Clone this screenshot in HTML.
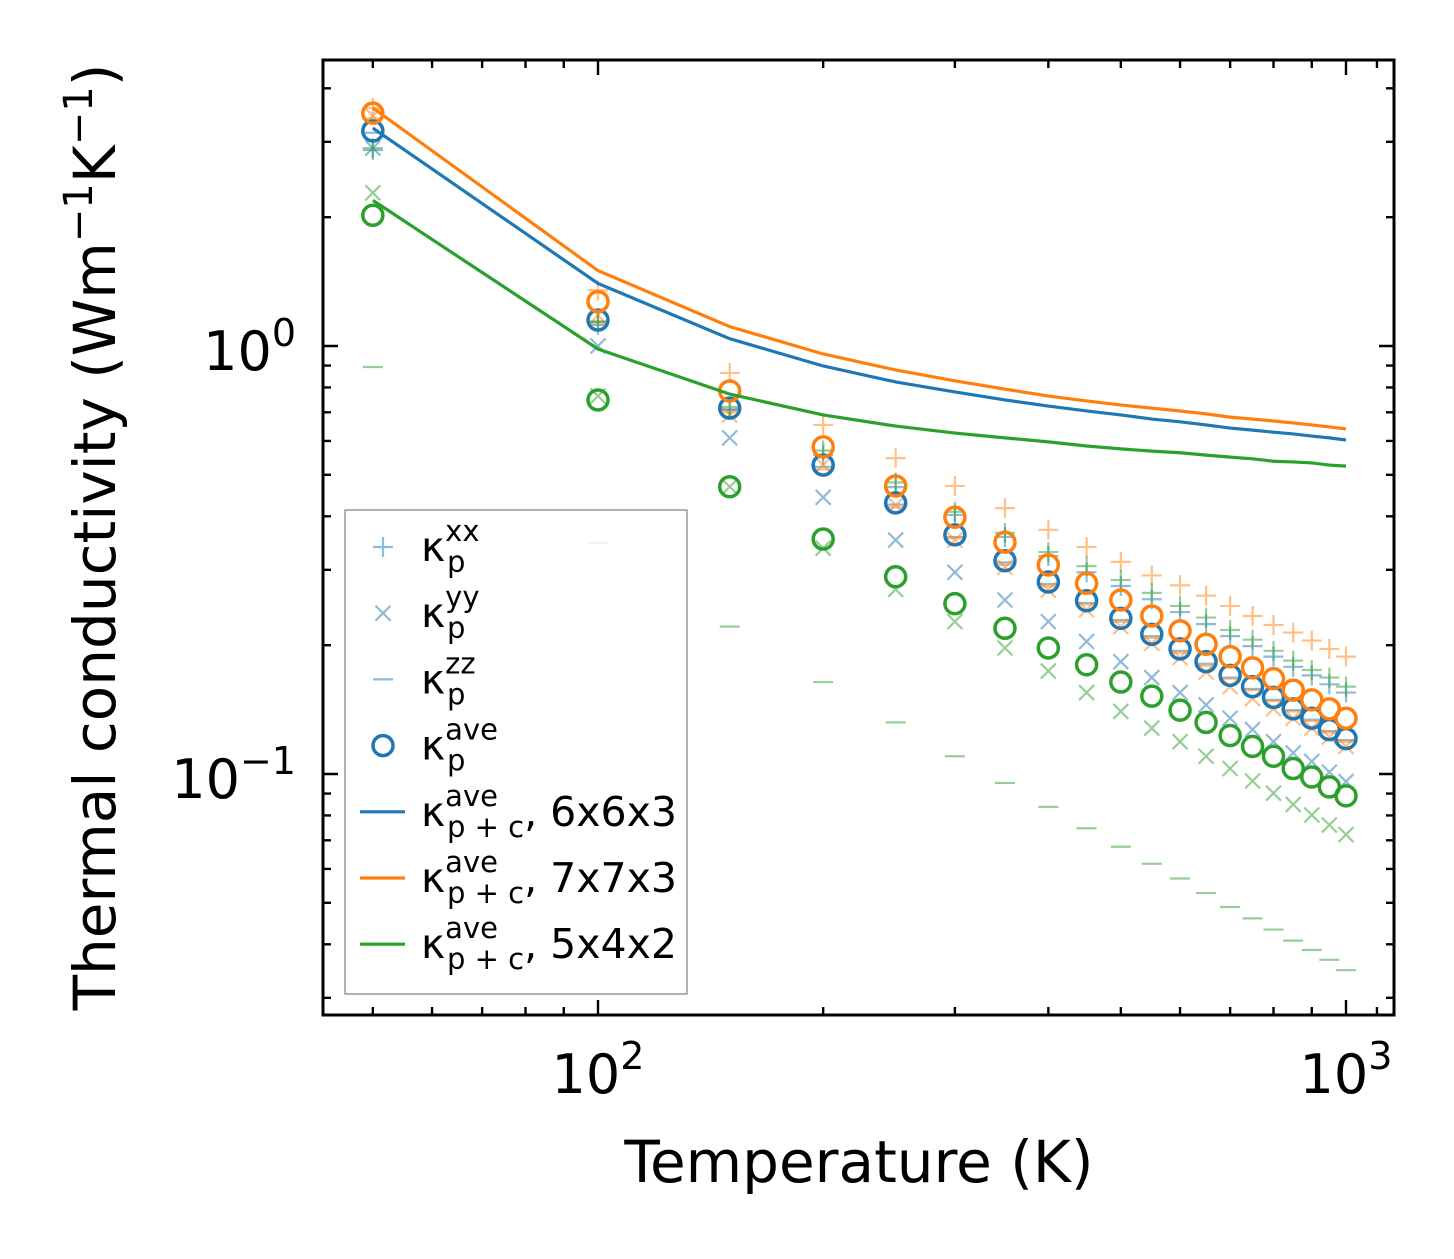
<!DOCTYPE html>
<html><head><meta charset="utf-8"><style>
body{margin:0;background:#fff}
svg text{font-family:"DejaVu Sans","Liberation Sans",sans-serif;fill:#000}
</style></head><body>
<svg id="c" width="1454" height="1254" viewBox="0 0 1454 1254" xmlns="http://www.w3.org/2000/svg"></svg>
<script>
const temps=[50,100,150,200,250,300,350,400,450,500,550,600,650,700,750,800,850,900,950,1000];
const blueAve=[3.18,1.15,0.716,0.527,0.43,0.362,0.315,0.281,0.254,0.231,0.212,0.196,0.183,0.170,0.160,0.151,0.142,0.135,0.127,0.121];
const orangeAve=[3.50,1.27,0.785,0.581,0.471,0.398,0.348,0.308,0.279,0.255,0.234,0.216,0.201,0.188,0.177,0.167,0.157,0.149,0.142,0.135];
const greenAve=[2.02,0.748,0.469,0.354,0.289,0.250,0.219,0.197,0.180,0.164,0.152,0.141,0.132,0.123,0.116,0.110,0.103,0.0984,0.0933,0.0889];
const blueLine=[3.23,1.40,1.04,0.898,0.824,0.781,0.748,0.724,0.705,0.690,0.675,0.665,0.654,0.643,0.636,0.629,0.623,0.616,0.610,0.603];
const orangeLine=[3.60,1.50,1.11,0.958,0.879,0.829,0.793,0.764,0.744,0.728,0.716,0.705,0.694,0.682,0.675,0.668,0.661,0.654,0.647,0.640];
const greenLine=[2.19,0.984,0.772,0.690,0.650,0.626,0.610,0.597,0.584,0.575,0.568,0.563,0.556,0.550,0.545,0.538,0.536,0.533,0.527,0.524];
const blueXX=[2.87,1.12,0.71,0.556,0.468,0.403,0.358,0.323,0.296,0.275,0.256,0.239,0.224,0.210,0.199,0.188,0.178,0.170,0.162,0.155];
const blueYY=[2.90,1.00,0.61,0.443,0.352,0.296,0.255,0.227,0.204,0.183,0.168,0.155,0.145,0.135,0.127,0.119,0.112,0.107,0.101,0.096];
const blueZZ=[3.15,1.14,0.71,0.522,0.426,0.358,0.312,0.278,0.251,0.229,0.210,0.194,0.181,0.168,0.158,0.149,0.141,0.134,0.126,0.120];
const orangeXX=[3.60,1.35,0.865,0.654,0.547,0.471,0.418,0.372,0.339,0.313,0.291,0.276,0.261,0.247,0.234,0.223,0.214,0.205,0.196,0.188];
const orangeYY=[3.45,1.18,0.69,0.527,0.425,0.352,0.304,0.269,0.242,0.221,0.202,0.187,0.173,0.160,0.150,0.142,0.135,0.128,0.122,0.116];
const orangeZZ=[3.40,1.13,0.70,0.515,0.420,0.355,0.308,0.275,0.249,0.227,0.208,0.192,0.179,0.167,0.157,0.148,0.140,0.133,0.125,0.119];
const greenXX=[2.90,1.14,0.72,0.57,0.48,0.41,0.366,0.33,0.306,0.284,0.265,0.247,0.232,0.217,0.206,0.194,0.184,0.175,0.168,0.160];
const greenYY=[2.28,0.764,0.469,0.337,0.270,0.227,0.197,0.174,0.155,0.140,0.128,0.119,0.110,0.103,0.0963,0.0902,0.0849,0.0802,0.0760,0.0722];
const greenZZ=[0.893,0.347,0.221,0.164,0.132,0.110,0.0953,0.0838,0.0747,0.0676,0.0617,0.0570,0.0527,0.0489,0.0460,0.0433,0.0408,0.0388,0.0368,0.0348];

const C={b:'#1f77b4',o:'#ff7f0e',g:'#2ca02c'};
const L=323,R=1394,T=60,B=1015;
const X=v=>598+(Math.log10(v)-2)*748;
const Y=v=>346-Math.log10(v)*428;
const svg=document.getElementById('c');
const NS='http://www.w3.org/2000/svg';
function el(t,a,p){const e=document.createElementNS(NS,t);for(const k in a)e.setAttribute(k,a[k]);(p||svg).appendChild(e);return e;}

const defs=el('defs',{});const cp=el('clipPath',{id:'clip'},defs);el('rect',{x:L,y:T,width:R-L,height:B-T},cp);
const plot=el('g',{'clip-path':'url(#clip)'});



function marker(g,type,x,y,col,a){
  const s=10;
  if(type==='+'){el('path',{d:`M${x-s} ${y}H${x+s}M${x} ${y-s}V${y+s}`,stroke:col,'stroke-width':2.2,'stroke-opacity':a,fill:'none'},g);}
  else if(type==='x'){const d=s*0.75;el('path',{d:`M${x-d} ${y-d}L${x+d} ${y+d}M${x-d} ${y+d}L${x+d} ${y-d}`,stroke:col,'stroke-width':2.2,'stroke-opacity':a,fill:'none'},g);}
  else if(type==='_'){el('path',{d:`M${x-s} ${y}H${x+s}`,stroke:col,'stroke-width':2.2,'stroke-opacity':a},g);}
  else {el('circle',{cx:x,cy:y,r:10,stroke:col,'stroke-width':3.5,fill:'none'},g);}
}
function scatter(name,vals,type,col,a){
  const g=el('g',{},plot);
  
  
  vals.forEach((v,i)=>marker(g,type,X(temps[i]),Y(v),col,a));
}
function line(name,vals,col){
  const p=el('polyline',{points:vals.map((v,i)=>X(temps[i])+','+Y(v)).join(' '),fill:'none',stroke:col,'stroke-width':3.2},plot);
  
  
}
scatter('blue-xx',blueXX,'+',C.b,0.5);scatter('blue-yy',blueYY,'x',C.b,0.5);scatter('blue-zz',blueZZ,'_',C.b,0.5);
scatter('orange-xx',orangeXX,'+',C.o,0.5);scatter('orange-yy',orangeYY,'x',C.o,0.5);scatter('orange-zz',orangeZZ,'_',C.o,0.5);
scatter('green-xx',greenXX,'+',C.g,0.5);scatter('green-yy',greenYY,'x',C.g,0.5);scatter('green-zz',greenZZ,'_',C.g,0.5);
scatter('blue-ave',blueAve,'o',C.b,1);scatter('orange-ave',orangeAve,'o',C.o,1);scatter('green-ave',greenAve,'o',C.g,1);
line('line-6x6x3',blueLine,C.b);line('line-7x7x3',orangeLine,C.o);line('line-5x4x2',greenLine,C.g);

const ax=el('g',{stroke:'#000','stroke-width':2.4});


const xt=[];for(let k=5;k<10;k++)xt.push(k*10);for(let k=2;k<10;k++)xt.push(k*100);xt.push(1100);
xt.forEach(v=>{const x=X(v);el('path',{d:`M${x} ${B}v-8M${x} ${T}v8`},ax);});
[100,1000].forEach(v=>{const x=X(v);el('path',{d:`M${x} ${B}v-15M${x} ${T}v15`},ax);});
const yt=[];for(let k=3;k<10;k++)yt.push(k/100);for(let k=2;k<10;k++)yt.push(k/10);for(let k=2;k<5;k++)yt.push(k);
yt.forEach(v=>{const y=Y(v);el('path',{d:`M${L} ${y}h8M${R} ${y}h-8`},ax);});
[0.1,1].forEach(v=>{const y=Y(v);el('path',{d:`M${L} ${y}h15M${R} ${y}h-15`},ax);});
const fr=el('rect',{x:L,y:T,width:R-L,height:B-T,fill:'none',stroke:'#000','stroke-width':3});



const xLabels=[{v:100,e:'2'},{v:1000,e:'3'}];
xLabels.forEach(t=>{const tx=el('text',{x:X(t.v),y:1093,'font-size':54,'text-anchor':'middle'});


tx.innerHTML=`10<tspan dy="-24" font-size="38">${t.e}</tspan>`;});
const yLabels=[{v:1,e:'0'},{v:0.1,e:'−1'}];
yLabels.forEach(t=>{const tx=el('text',{x:296,y:Y(t.v)+24,'font-size':54,'text-anchor':'end'});


tx.innerHTML=`10<tspan dy="-24" font-size="38">${t.e}</tspan>`;});

const xtit=el('text',{x:859,y:1182,'font-size':58,'text-anchor':'middle'});


xtit.textContent='Temperature (K)';
const ytit=el('text',{x:0,y:0,'font-size':58,'text-anchor':'middle',transform:'translate(115,537) rotate(-90)'});


ytit.innerHTML='Thermal conductivity (Wm<tspan dy="-23" font-size="40">−1</tspan><tspan dy="23">K</tspan><tspan dy="-23" font-size="40">−1</tspan><tspan dy="23">)</tspan>';

const lg=el('g',{});


el('rect',{x:345,y:510,width:342,height:484,fill:'#fff','fill-opacity':0.8,stroke:'#999','stroke-width':1.5},lg);
const entries=[['+','xx','',C.b],['x','yy','',C.b],['_','zz','',C.b],['o','ave','',C.b],['-','ave',', 6x6x3',C.b],['-','ave',', 7x7x3',C.o],['-','ave',', 5x4x2',C.g]];
entries.forEach((e,i)=>{
  const y=547+i*66.2;
  const g=el('g',{},lg);
  
  
  if(e[0]==='-')el('path',{d:`M360 ${y}H405`,stroke:e[3],'stroke-width':3.2},g);
  else marker(g,e[0],383,y,e[3],e[0]==='o'?1:0.5);
  const t=el('text',{x:421,y:y+14,'font-size':41},g);
  const sub=e[2]?'p + c':'p';
  t.innerHTML=`κ<tspan font-size="29" dy="-20">${e[1]}</tspan><tspan font-size="29" x="447" dy="31">${sub}</tspan><tspan dy="-11">${e[2]}</tspan>`;
});
</script>
</body></html>
